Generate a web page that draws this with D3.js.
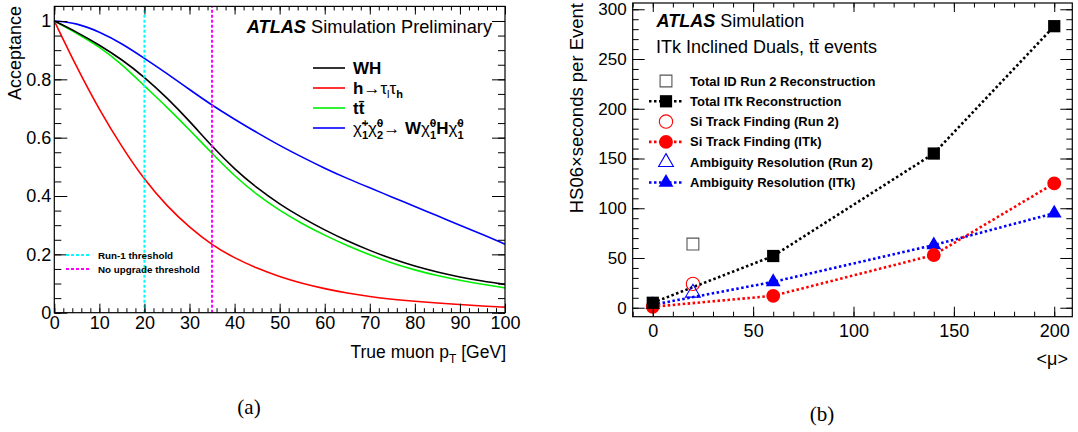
<!DOCTYPE html>
<html>
<head>
<meta charset="utf-8">
<script src="https://cdn.jsdelivr.net/npm/d3@7"></script>
<style>
body { margin: 0; background: #fff; }
svg text { font-family: "Liberation Sans", Arial, Helvetica, sans-serif; fill: #000; }
</style>
</head>
<body>
<svg id="chart" width="1078" height="432"></svg>
<script>
// ---- panel (a): muon acceptance vs true muon pT ----
var ptValues    = [0, 5, 10, 15, 20, 25, 30, 35, 40, 45, 50, 55, 60, 65, 70, 75, 80, 85, 90, 95, 100];
var accWH       = [1, 0.962, 0.918, 0.868, 0.808, 0.737, 0.657, 0.570, 0.492, 0.427, 0.372, 0.325, 0.283, 0.246, 0.213, 0.184, 0.159, 0.139, 0.122, 0.108, 0.097];
var accHtautau  = [1, 0.84, 0.695, 0.568, 0.455, 0.365, 0.292, 0.232, 0.187, 0.152, 0.123, 0.1, 0.082, 0.067, 0.055, 0.046, 0.039, 0.033, 0.028, 0.023, 0.019];
var accTTbar    = [1, 0.958, 0.912, 0.852, 0.777, 0.705, 0.627, 0.546, 0.468, 0.404, 0.35, 0.305, 0.265, 0.23, 0.198, 0.17, 0.146, 0.127, 0.111, 0.097, 0.085];
var accChargino = [1, 0.993, 0.963, 0.923, 0.872, 0.82, 0.765, 0.711, 0.663, 0.617, 0.573, 0.533, 0.495, 0.46, 0.428, 0.396, 0.364, 0.332, 0.3, 0.268, 0.235];
var thresholds  = [20, 35];
var thresholdNames = ["Run-1 threshold", "No upgrade threshold"];

// ---- panel (b): CPU time vs pileup ----
var muItk        = [0, 60, 140, 200];
var totalItk     = [5, 52, 155, 283];
var siFindItk    = [1, 12, 53, 125];
var ambiguityItk = [3, 26, 63, 95];
var muRun2        = [20];
var totalRun2     = [64];
var siFindRun2    = [24];
var ambiguityRun2 = [15];

var svg = d3.select("#chart");

// tspans with bold / sub / sup pieces
function richText(t, parts) {
  var shift = 0;
  parts.forEach(function(p) {
    var s = t.append("tspan").text(p.t);
    var target = p.dy || 0;
    if (target - shift !== 0) s.attr("dy", target - shift);
    shift = target;
    if (p.b) s.attr("font-weight", "bold");
    if (p.i) s.attr("font-style", "italic");
    if (p.fs) s.attr("font-size", p.fs);
    if (p.dx) s.attr("dx", p.dx);
  });
}

// frame with inward major/minor ticks on all four sides
function drawFrame(g, x, y, o) {
  var x0 = x.range()[0], x1 = x.range()[1], y0 = y.range()[0], y1 = y.range()[1];
  g.append("g").attr("transform", `translate(0,${y0})`)
    .call(d3.axisBottom(x).tickValues(o.xMinor).tickSizeInner(-o.xMinLen).tickSizeOuter(0).tickFormat(""));
  var xb = g.append("g").attr("transform", `translate(0,${y0})`)
    .call(d3.axisBottom(x).tickValues(o.xMajor).tickSizeInner(-o.xMajLen).tickSizeOuter(0).tickPadding(o.xPad).tickFormat(o.xFmt));
  xb.selectAll("text").attr("font-size", o.xFont).attr("font-family", null);
  g.append("g").attr("transform", `translate(0,${y1})`)
    .call(d3.axisTop(x).tickValues(o.xMinor).tickSizeInner(-o.xMinLen * 0.9).tickSizeOuter(0).tickFormat(""));
  g.append("g").attr("transform", `translate(0,${y1})`)
    .call(d3.axisTop(x).tickValues(o.xMajor).tickSizeInner(-o.xMajLen * 0.9).tickSizeOuter(0).tickFormat(""));

  g.append("g").attr("transform", `translate(${x0},0)`)
    .call(d3.axisLeft(y).tickValues(o.yMinor).tickSizeInner(-o.yMinLen).tickSizeOuter(0).tickFormat(""));
  var yl = g.append("g").attr("transform", `translate(${x0},0)`)
    .call(d3.axisLeft(y).tickValues(o.yMajor).tickSizeInner(-o.yMajLen).tickSizeOuter(0).tickPadding(o.yPad).tickFormat(o.yFmt));
  yl.selectAll("text").attr("font-size", o.yFont).attr("font-family", null);
  g.append("g").attr("transform", `translate(${x1},0)`)
    .call(d3.axisRight(y).tickValues(o.yMinor).tickSizeInner(-o.yMinLen).tickSizeOuter(0).tickFormat(""));
  g.append("g").attr("transform", `translate(${x1},0)`)
    .call(d3.axisRight(y).tickValues(o.yMajor).tickSizeInner(-o.yMajLen).tickSizeOuter(0).tickFormat(""));

  g.selectAll(".domain").remove();
  g.selectAll(".tick line").attr("stroke", "#000");
  g.append("rect").attr("x", x0).attr("y", y1).attr("width", x1 - x0).attr("height", y0 - y1)
    .attr("fill", "none").attr("stroke", "#000").attr("stroke-width", 1.2);
}

// ================= panel (a) =================
var ga = svg.append("g");
var xa = d3.scaleLinear().domain([0, 100]).range([54.3, 505]);
var ya = d3.scaleLinear().domain([0, 1.05]).range([312.7, 6.4]);

var curvesA = [
  { vals: accChargino, color: "#0000ff" },
  { vals: accTTbar, color: "#00ee00" },
  { vals: accWH, color: "#000000" },
  { vals: accHtautau, color: "#ff0000" }
];
var lineA = d3.line().curve(d3.curveBasis)
  .x(function(d) { return xa(d[0]); }).y(function(d) { return ya(d[1]); });
curvesA.forEach(function(c) {
  ga.append("path").attr("d", lineA(d3.zip(ptValues, c.vals)))
    .attr("fill", "none").attr("stroke", c.color).attr("stroke-width", 1.6);
});

var thrColors = ["#00ffff", "#ff00ff"];
thresholds.forEach(function(t, i) {
  ga.append("line").attr("x1", xa(t)).attr("x2", xa(t)).attr("y1", ya(0)).attr("y2", ya(1.05))
    .attr("stroke", thrColors[i]).attr("stroke-width", 2).attr("stroke-dasharray", "3,2");
});

drawFrame(ga, xa, ya, {
  xMajor: d3.range(0, 101, 10), xMinor: d3.range(0, 101, 2), xMajLen: 9, xMinLen: 4.5,
  xPad: 4, xFont: 18, xFmt: d3.format("d"),
  yMajor: [0, 0.2, 0.4, 0.6, 0.8, 1], yMinor: d3.range(0, 21).map(function(i) { return i * 0.05; }),
  yMajLen: 13, yMinLen: 7, yPad: 3, yFont: 18, yFmt: function(d) { return d === 0 ? "0" : d === 1 ? "1" : d3.format(".1f")(d); }
});

var xt = ga.append("text").attr("x", 506).attr("y", 358).attr("text-anchor", "end").attr("font-size", 17.5);
richText(xt, [{ t: "True muon p" }, { t: "T", dy: 5, fs: 12 }, { t: " [GeV]" }]);
ga.append("text").attr("transform", "translate(21,6) rotate(-90)").attr("text-anchor", "end")
  .attr("font-size", 18).text("Acceptance");

var atl = ga.append("text").attr("x", 492).attr("y", 33).attr("text-anchor", "end").attr("font-size", 18.2);
richText(atl, [{ t: "ATLAS", b: 1, i: 1 }, { t: " Simulation Preliminary" }]);

var legA = [
  { color: "#000000", parts: [{ t: "WH", b: 1 }] },
  { color: "#ff0000", parts: [{ t: "h", b: 1 }, { t: "\u2192\u03c4" }, { t: "l", dy: 4, fs: 11 }, { t: "\u03c4" }, { t: "h", dy: 4, fs: 11, b: 1 }] },
  { color: "#00ee00", parts: [{ t: "tt\u0304", b: 1 }] },
  { color: "#0000ff", parts: [
    { t: "\u03c7\u0303" }, { t: "+", dy: -7, fs: 11, b: 1 }, { t: "1", dy: 5, fs: 11, dx: -6.5, b: 1 },
    { t: "\u03c7\u0303" }, { t: "0", dy: -7, fs: 11, b: 1 }, { t: "2", dy: 5, fs: 11, dx: -6, b: 1 },
    { t: "\u2192 " }, { t: "W", b: 1 },
    { t: "\u03c7\u0303" }, { t: "0", dy: -7, fs: 11, b: 1 }, { t: "1", dy: 5, fs: 11, dx: -6, b: 1 },
    { t: "H", b: 1 },
    { t: "\u03c7\u0303" }, { t: "0", dy: -7, fs: 11, b: 1 }, { t: "1", dy: 5, fs: 11, dx: -6, b: 1 }
  ] }
];
legA.forEach(function(l, i) {
  var yy = 68 + i * 20;
  ga.append("line").attr("x1", 313).attr("x2", 345).attr("y1", yy).attr("y2", yy)
    .attr("stroke", l.color).attr("stroke-width", 1.6);
  var t = ga.append("text").attr("x", 353).attr("y", yy + 6).attr("font-size", 17);
  richText(t, l.parts);
});

thresholdNames.forEach(function(n, i) {
  var yy = 255 + i * 14;
  ga.append("line").attr("x1", 66).attr("x2", 91).attr("y1", yy).attr("y2", yy)
    .attr("stroke", thrColors[i]).attr("stroke-width", 2).attr("stroke-dasharray", "3,2");
  ga.append("text").attr("x", 98).attr("y", yy + 3.5).attr("font-size", 9.8).attr("font-weight", "bold").text(n);
});

ga.append("text").attr("x", 249).attr("y", 414).attr("text-anchor", "middle")
  .style("font-family", "'Liberation Serif', 'Times New Roman', serif").attr("font-size", 21).text("(a)");

// ================= panel (b) =================
var gb = svg.append("g");
var xb = d3.scaleLinear().domain([-10, 209]).range([632.7, 1072.3]);
var yb = d3.scaleLinear().domain([-9, 306.3]).range([316.7, 3]);

var seriesB = [
  { mu: muItk, vals: ambiguityItk, color: "#0000ff", sym: d3.symbolTriangle, size: 95 },
  { mu: muItk, vals: siFindItk, color: "#ff0000", sym: d3.symbolCircle, size: 150 },
  { mu: muItk, vals: totalItk, color: "#000000", sym: d3.symbolSquare, size: 150 }
];
var lineB = d3.line().x(function(d) { return xb(d[0]); }).y(function(d) { return yb(d[1]); });
seriesB.forEach(function(s) {
  gb.append("path").attr("d", lineB(d3.zip(s.mu, s.vals)))
    .attr("fill", "none").attr("stroke", s.color).attr("stroke-width", 2.6).attr("stroke-dasharray", "2.5,2.5");
});
seriesB.forEach(function(s) {
  gb.selectAll(null).data(d3.zip(s.mu, s.vals)).enter().append("path")
    .attr("transform", function(d) { return `translate(${xb(d[0])},${yb(d[1])})`; })
    .attr("d", d3.symbol(s.sym, s.size)).attr("fill", s.color);
});

var openB = [
  { mu: muRun2, vals: totalRun2, color: "#555555", sym: d3.symbolSquare, size: 140 },
  { mu: muRun2, vals: siFindRun2, color: "#ff0000", sym: d3.symbolCircle, size: 140 },
  { mu: muRun2, vals: ambiguityRun2, color: "#0000ff", sym: d3.symbolTriangle, size: 95 }
];
openB.forEach(function(s) {
  gb.selectAll(null).data(d3.zip(s.mu, s.vals)).enter().append("path")
    .attr("transform", function(d) { return `translate(${xb(d[0])},${yb(d[1])})`; })
    .attr("d", d3.symbol(s.sym, s.size)).attr("fill", "none").attr("stroke", s.color).attr("stroke-width", 1.1);
});

drawFrame(gb, xb, yb, {
  xMajor: d3.range(0, 201, 50), xMinor: d3.range(-10, 201, 10), xMajLen: 10, xMinLen: 5,
  xPad: 8, xFont: 18, xFmt: d3.format("d"),
  yMajor: d3.range(0, 301, 50), yMinor: d3.range(0, 301, 10), yMajLen: 12, yMinLen: 6,
  yPad: 6, yFont: 17, yFmt: d3.format("d")
});

gb.append("text").attr("x", 1068).attr("y", 365).attr("text-anchor", "end").attr("font-size", 18).text("<\u03bc>");
gb.append("text").attr("transform", "translate(583,3) rotate(-90)").attr("text-anchor", "end")
  .attr("font-size", 18.5).text("HS06\u00d7seconds per Event");

var atlB = gb.append("text").attr("x", 656.5).attr("y", 27).attr("font-size", 18);
richText(atlB, [{ t: "ATLAS", b: 1, i: 1 }, { t: "  Simulation" }]);
gb.append("text").attr("x", 656).attr("y", 53).attr("font-size", 18).text("ITk Inclined Duals, tt\u0304 events");

var legB = [
  { name: "Total ID Run 2 Reconstruction", color: "#555555", sym: d3.symbolSquare, size: 140, open: true },
  { name: "Total ITk Reconstruction", color: "#000000", sym: d3.symbolSquare, size: 150 },
  { name: "Si Track Finding (Run 2)", color: "#ff0000", sym: d3.symbolCircle, size: 140, open: true },
  { name: "Si Track Finding (ITk)", color: "#ff0000", sym: d3.symbolCircle, size: 150 },
  { name: "Ambiguity Resolution (Run 2)", color: "#0000ff", sym: d3.symbolTriangle, size: 95, open: true },
  { name: "Ambiguity Resolution (ITk)", color: "#0000ff", sym: d3.symbolTriangle, size: 95 }
];
legB.forEach(function(l, i) {
  var yy = 81 + i * 20.3;
  if (!l.open) {
    gb.append("line").attr("x1", 649).attr("x2", 683).attr("y1", yy).attr("y2", yy)
      .attr("stroke", l.color).attr("stroke-width", 2.6).attr("stroke-dasharray", "2.5,2.5");
  }
  var m = gb.append("path").attr("transform", `translate(666,${yy})`).attr("d", d3.symbol(l.sym, l.size));
  if (l.open) m.attr("fill", "#fff").attr("stroke", l.color).attr("stroke-width", 1.1);
  else m.attr("fill", l.color);
  gb.append("text").attr("x", 690).attr("y", yy + 4.5).attr("font-size", 13).attr("font-weight", "bold").text(l.name);
});

gb.append("text").attr("x", 822).attr("y", 421).attr("text-anchor", "middle")
  .style("font-family", "'Liberation Serif', 'Times New Roman', serif").attr("font-size", 21).text("(b)");
</script>
</body>
</html>
